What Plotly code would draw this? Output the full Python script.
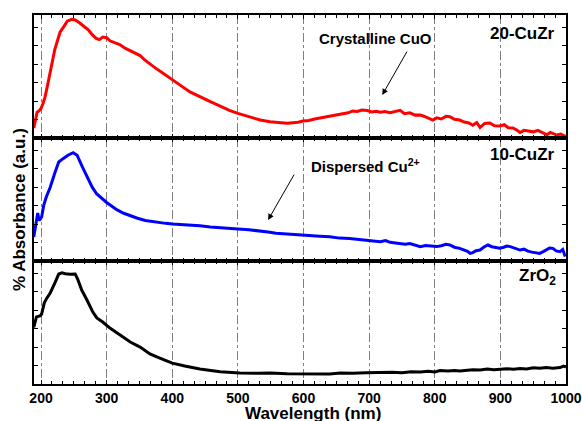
import plotly.graph_objects as go
from plotly.subplots import make_subplots

# ---- data (arbitrary absorbance units, each panel scaled 0-100) ----
red_wl = [189, 192, 194, 197, 200, 203, 206, 210, 214, 218, 221, 225, 229, 234, 240, 247, 252, 259, 265, 272,
          278, 284, 289, 294, 300, 305, 312, 320, 328, 336, 344, 351, 358, 366, 374, 381, 390, 400, 412, 427,
          442, 458, 473, 487, 500, 517, 534, 549, 564, 575, 584, 592, 599, 608, 617, 625, 633, 641, 651, 660,
          668, 675, 682, 689, 697, 704, 711, 717, 724, 732, 740, 747, 754, 762, 770, 778, 786, 792, 797, 803,
          810, 817, 823, 830, 838, 845, 852, 858, 864, 869, 876, 884, 891, 899, 906, 912, 919, 925, 930, 936,
          942, 950, 957, 964, 971, 976, 980, 986, 992, 998, 1000]
red_abs = [8, 18, 21, 22, 24, 28, 33, 43, 55, 64, 72, 80, 86, 90, 95, 96.5, 96, 93.5, 91, 88,
           84, 81, 80, 82, 81.5, 79, 77.5, 76, 73, 71, 69, 67, 63.5, 60, 57, 54.5, 51, 47, 43, 37.5,
           33.5, 29.5, 26, 22.5, 20, 17, 14.6, 13.2, 12.2, 12, 12.4, 12.8, 13.8, 14.2, 15.5, 16.2, 16.8, 17.8, 19, 19.8,
           20.5, 22, 21.6, 22.8, 22.3, 21.2, 21.8, 21, 21.6, 20.6, 21.5, 22.5, 19.8, 20.5, 18.6, 18.7, 17.2, 15.5, 14.6, 16.4,
           15.5, 17.6, 17.3, 15.2, 14.6, 13, 12.2, 10.4, 12.6, 8.5, 11.8, 12.2, 10, 9.8, 10.8, 8.4, 8.2, 6.5, 4.5, 6.2,
           5.8, 5, 6.2, 4.2, 2.6, 4.5, 3.8, 2.4, 3.2, 1.5, 2]

blue_wl = [189, 191, 193, 195, 197, 199, 201, 204, 208, 214, 221, 227, 233, 241, 249, 255, 263, 271, 278, 285,
           292, 300, 308, 316, 326, 336, 347, 359, 370, 381, 390, 400, 414, 427, 442, 458, 473, 487, 500, 517,
           535, 546, 558, 570, 581, 595, 610, 625, 640, 655, 670, 685, 701, 710, 717, 725, 732, 740, 747, 755,
           762, 770, 778, 786, 795, 803, 810, 817, 823, 830, 838, 844, 850, 854, 858, 863, 869, 875, 881, 887,
           893, 899, 905, 910, 915, 921, 926, 930, 936, 942, 948, 954, 960, 966, 970, 975, 980, 985, 991, 995,
           998, 1000]
blue_abs = [19.5, 27, 34, 39, 33, 34, 36, 45, 52, 60, 71.5, 80.5, 83, 86, 88, 86, 76.5, 67.5, 60, 54.5,
            51, 47.6, 44.5, 41.5, 38.8, 36.6, 34.8, 33, 32, 31.3, 30.6, 30, 29.6, 29.3, 28.6, 27.6, 27.2, 26.6, 26, 25.4,
            24.4, 23.5, 22.5, 22, 21.6, 21.1, 20.6, 20.2, 19.8, 18.6, 18.2, 17.4, 17.1, 16.4, 15.7, 16.6, 15.2, 14.6, 14.4, 13.6,
            14.2, 12.8, 11.7, 12.6, 12.2, 11.7, 12.4, 13.6, 13, 11.2, 10.3, 9.2, 7.8, 6.2, 6.8, 8.4, 8.9, 11.4, 13, 11.6,
            10.8, 10.3, 11.2, 12.2, 11.7, 10.6, 9.4, 8.9, 9.6, 8, 7.2, 6.8, 6.2, 7.8, 9, 10.6, 10.3, 8.2, 7.6, 9.4,
            4.9, 5.5]

black_wl = [189, 191, 193, 196, 199, 201, 205, 209, 214, 221, 227, 232, 237, 244, 252, 256, 262, 270, 279, 285,
            294, 305, 320, 336, 351, 366, 381, 400, 419, 442, 473, 503, 530, 549, 575, 595, 620, 640, 656, 675,
            695, 717, 735, 750, 764, 778, 790, 800, 808, 820, 830, 838, 848, 858, 869, 880, 890, 899, 910, 920,
            930, 940, 950, 960, 970, 980, 991, 996, 1000]
black_abs = [46, 52, 54.5, 55, 55.5, 57, 66, 70, 74, 82, 89.4, 90.4, 89.6, 89.2, 89.4, 85, 76.4, 68.3, 58.5, 53.7,
             50.4, 45.5, 39.8, 34.1, 30, 24.4, 21.1, 17, 14.6, 12.2, 10, 9, 8.8, 8.9, 8.3, 8.1, 8.4, 8.2, 8.9, 8.7,
             9.1, 9.3, 9.6, 9.1, 9.9, 9.8, 10.4, 9.8, 11, 10.5, 10.9, 10.6, 11.2, 11.6, 11.4, 12.1, 11.5, 11.8, 12.4, 11.9,
             12.6, 12.2, 13.2, 12.8, 13.4, 12.9, 13.4, 14.6, 13.8]

x_ticks = [200, 300, 400, 500, 600, 700, 800, 900, 1000]
panel_labels = ["20-CuZr", "10-CuZr", "ZrO<sub>2</sub>"]

FONT = "Liberation Sans, Arial, sans-serif"

fig = make_subplots(rows=3, cols=1, shared_xaxes=True, vertical_spacing=0)
fig.add_trace(go.Scatter(x=red_wl, y=red_abs, mode="lines", line=dict(color="#ff0000", width=3)), row=1, col=1)
fig.add_trace(go.Scatter(x=blue_wl, y=blue_abs, mode="lines", line=dict(color="#0000ff", width=3)), row=2, col=1)
fig.add_trace(go.Scatter(x=black_wl, y=black_abs, mode="lines", line=dict(color="#000000", width=3)), row=3, col=1)

for r in (1, 2, 3):
    fig.update_xaxes(range=[189.3, 1000], tickvals=x_ticks, showgrid=True, gridcolor="#808080",
                     griddash="dashdot", gridwidth=1, showline=True, linecolor="black", linewidth=1.5,
                     mirror="ticks", ticks="inside", ticklen=4, tickcolor="black", zeroline=False,
                     minor=dict(dtick=100 / 6, tick0=200, ticks="inside", ticklen=3, tickcolor="black", showgrid=False),
                     showticklabels=(r == 3),
                     tickfont=dict(family=FONT, size=14, color="black", weight="bold"),
                     automargin=False, row=r, col=1)
    fig.update_yaxes(range=[0, 100], showticklabels=False, showgrid=False, zeroline=False, showline=True,
                     linecolor="black", linewidth=1.5, mirror="ticks", ticks="inside", ticklen=4,
                     tickcolor="black", dtick=15, tick0=0, automargin=False, row=r, col=1)

L, R, T, B = 34, 16, 15, 37
W, H = 582, 421
pw, ph = W - L - R, H - T - B


def px(x):
    return (x - L) / pw


def py(y):
    return (H - B - y) / ph


bold = dict(family=FONT, size=17, color="black")
anns = [
    dict(text="<b>" + panel_labels[0] + "</b>", x=px(557), y=py(33), xanchor="right", yanchor="middle"),
    dict(text="<b>" + panel_labels[1] + "</b>", x=px(557), y=py(155), xanchor="right", yanchor="middle"),
    dict(text="<b>" + panel_labels[2] + "</b>", x=px(558), y=py(277), xanchor="right", yanchor="middle"),
    dict(text="<b>Crystalline CuO</b>", x=px(375), y=py(38), xanchor="center", yanchor="middle",
         font=dict(family=FONT, size=15, color="black")),
    dict(text="<b>Dispersed Cu<sup>2+</sup></b>", x=px(309), y=py(165), xanchor="left", yanchor="middle",
         font=dict(family=FONT, size=15, color="black")),
    dict(text="<b>Wavelength (nm)</b>", x=px(313), y=py(413), xanchor="center", yanchor="middle"),
    dict(text="<b>% Absorbance (a.u.)</b>", x=px(19), y=py(210), xanchor="center", yanchor="middle",
         textangle=-90),
]
for a in anns:
    a.setdefault("font", bold)
    a.update(xref="paper", yref="paper", showarrow=False)
    fig.add_annotation(**a)

fig.add_annotation(x=720, y=35, ax=759, ay=71.5, xref="x", yref="y", axref="x", ayref="y", text="",
                   showarrow=True, arrowhead=2, arrowsize=1.2, arrowwidth=1, arrowcolor="black")
fig.add_annotation(x=546, y=33.3, ax=587, ay=71.5, xref="x2", yref="y2", axref="x2", ayref="y2", text="",
                   showarrow=True, arrowhead=2, arrowsize=1.2, arrowwidth=1, arrowcolor="black")

fig.update_layout(width=W, height=H, margin=dict(l=L, r=R, t=T, b=B, autoexpand=False), showlegend=False,
                  plot_bgcolor="white", paper_bgcolor="white", font=dict(family=FONT))

fig.write_html("out.html", config={"displayModeBar": False},
               post_script="document.body.style.margin='0';document.body.style.overflow='hidden';")
